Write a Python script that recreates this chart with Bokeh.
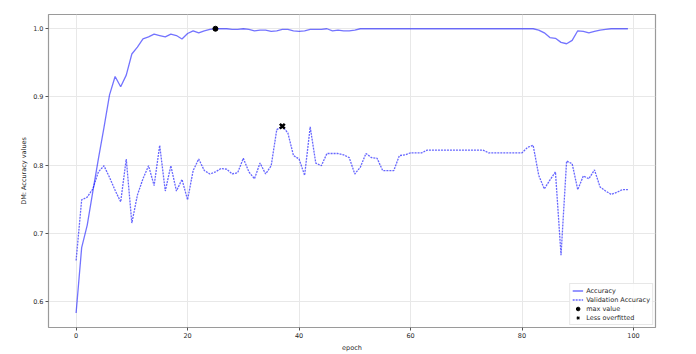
import numpy as np
from bokeh.plotting import figure
from bokeh.models import FixedTicker, Legend, LegendItem, Range1d, NumeralTickFormatter
from bokeh.embed import file_html
from bokeh.resources import INLINE

epochs = list(range(100))

accuracy = [
    0.583, 0.679, 0.712, 0.761, 0.809, 0.855, 0.903, 0.930, 0.915, 0.932,
    0.963, 0.973, 0.985, 0.988, 0.992, 0.990, 0.988, 0.992, 0.990, 0.985,
    0.993, 0.997, 0.994, 0.997, 0.999, 1.000, 1.000, 1.000, 0.999, 0.999,
    1.000, 0.999, 0.997, 0.998, 0.998, 0.996, 0.997, 0.999, 0.999, 0.997,
    0.996, 0.997, 0.999, 0.999, 0.999, 1.000, 0.997, 0.998, 0.997, 0.997,
    0.998, 1.000, 1.000, 1.000, 1.000, 1.000, 1.000, 1.000, 1.000, 1.000,
    1.000, 1.000, 1.000, 1.000, 1.000, 1.000, 1.000, 1.000, 1.000, 1.000,
    1.000, 1.000, 1.000, 1.000, 1.000, 1.000, 1.000, 1.000, 1.000, 1.000,
    1.000, 1.000, 1.000, 0.998, 0.994, 0.987, 0.986, 0.980, 0.978, 0.983,
    0.997, 0.996, 0.994, 0.996, 0.998, 0.999, 1.000, 1.000, 1.000, 1.000,
]

val_accuracy = [
    0.660, 0.749, 0.753, 0.765, 0.790, 0.799, 0.782, 0.763, 0.746, 0.809,
    0.715, 0.756, 0.780, 0.799, 0.770, 0.829, 0.762, 0.799, 0.762, 0.779,
    0.749, 0.792, 0.809, 0.792, 0.787, 0.790, 0.795, 0.794, 0.787, 0.789,
    0.810, 0.790, 0.780, 0.803, 0.787, 0.799, 0.852, 0.857, 0.847, 0.814,
    0.809, 0.785, 0.856, 0.803, 0.799, 0.817, 0.817, 0.817, 0.815, 0.811,
    0.787, 0.797, 0.817, 0.811, 0.810, 0.792, 0.792, 0.792, 0.814, 0.815,
    0.818, 0.818, 0.818, 0.822, 0.822, 0.822, 0.822, 0.822, 0.822, 0.822,
    0.822, 0.822, 0.822, 0.822, 0.818, 0.818, 0.818, 0.818, 0.818, 0.818,
    0.818, 0.826, 0.829, 0.785, 0.765, 0.778, 0.790, 0.668, 0.806, 0.802,
    0.764, 0.784, 0.780, 0.793, 0.768, 0.762, 0.757, 0.760, 0.764, 0.764,
]

x_ticks = [0, 20, 40, 60, 80, 100]
y_ticks = [0.6, 0.7, 0.8, 0.9, 1.0]

max_idx = int(np.argmax(accuracy))
best_idx = int(np.argmax(val_accuracy))

FONT = "DejaVu Sans"
TXT = "#2a2a2a"

p = figure(width=696, height=354, output_backend="svg", toolbar_location=None,
           x_range=Range1d(-4.95, 103.95), y_range=Range1d(0.5618, 1.0209),
           min_border_left=48, min_border_right=41, min_border_top=14,
           min_border_bottom=23)
p.background_fill_color = "white"
p.border_fill_color = "white"
p.outline_line_color = "#9a9a9a"
p.outline_line_width = 1.2

line_col = "#0000ff"
r1 = p.line(epochs, accuracy, line_color=line_col, line_alpha=0.55, line_width=1.3)
r2 = p.line(epochs, val_accuracy, line_color=line_col, line_alpha=0.6, line_width=1.3,
            line_dash="2 1")
p.scatter([epochs[max_idx]], [accuracy[max_idx]], marker="circle", size=5,
          fill_color="black", line_color="black")
p.scatter([epochs[best_idx]], [val_accuracy[best_idx]], marker="x", size=7,
          line_color="black", line_width=2.5)

# legend-only proxies (drawn off the visible range)
off_x = [-1000]
off_y = [-1000]
r3 = p.scatter(off_x, off_y, marker="circle", size=5, fill_color="black", line_color="black")
r4 = p.scatter(off_x, off_y, marker="x", size=7, line_color="black", line_width=1.3)

p.xaxis.ticker = FixedTicker(ticks=x_ticks)
p.yaxis.ticker = FixedTicker(ticks=y_ticks)
p.yaxis.formatter = NumeralTickFormatter(format="0.0")
p.xaxis.axis_label = "epoch"
p.yaxis.axis_label = "DM: Accuracy values"

for ax in (p.xaxis[0], p.yaxis[0]):
    ax.axis_line_color = None
    ax.major_tick_line_color = "#555555"
    ax.major_tick_out = 3
    ax.major_tick_in = 0
    ax.minor_tick_line_color = None
    ax.major_label_text_font = FONT
    ax.major_label_text_font_size = "6.5px"
    ax.major_label_text_color = TXT
    ax.major_label_standoff = 2
    ax.axis_label_text_font = FONT
    ax.axis_label_text_font_size = "6.5px"
    ax.axis_label_text_font_style = "normal"
    ax.axis_label_text_color = TXT
    ax.axis_label_standoff = 3

p.yaxis[0].axis_label_standoff = 2

p.xgrid.grid_line_color = "#e8e8e8"
p.ygrid.grid_line_color = "#e8e8e8"
p.xgrid.grid_line_width = 1
p.ygrid.grid_line_width = 1

legend = Legend(items=[
    LegendItem(label="Accuracy", renderers=[r1]),
    LegendItem(label="Validation Accuracy", renderers=[r2]),
    LegendItem(label="max value", renderers=[r3]),
    LegendItem(label="Less overfitted", renderers=[r4]),
], location="bottom_right")
legend.label_text_font = FONT
legend.label_text_font_size = "6.5px"
legend.label_text_color = TXT
legend.glyph_height = 9
legend.glyph_width = 11
legend.label_height = 8
legend.label_standoff = 3
legend.spacing = 0
legend.padding = 2
legend.margin = 2
legend.border_line_color = "#d0d0d0"
legend.border_line_width = 1
legend.background_fill_alpha = 0.85
p.add_layout(legend)

open("out.html", "w").write(file_html(p, INLINE))
